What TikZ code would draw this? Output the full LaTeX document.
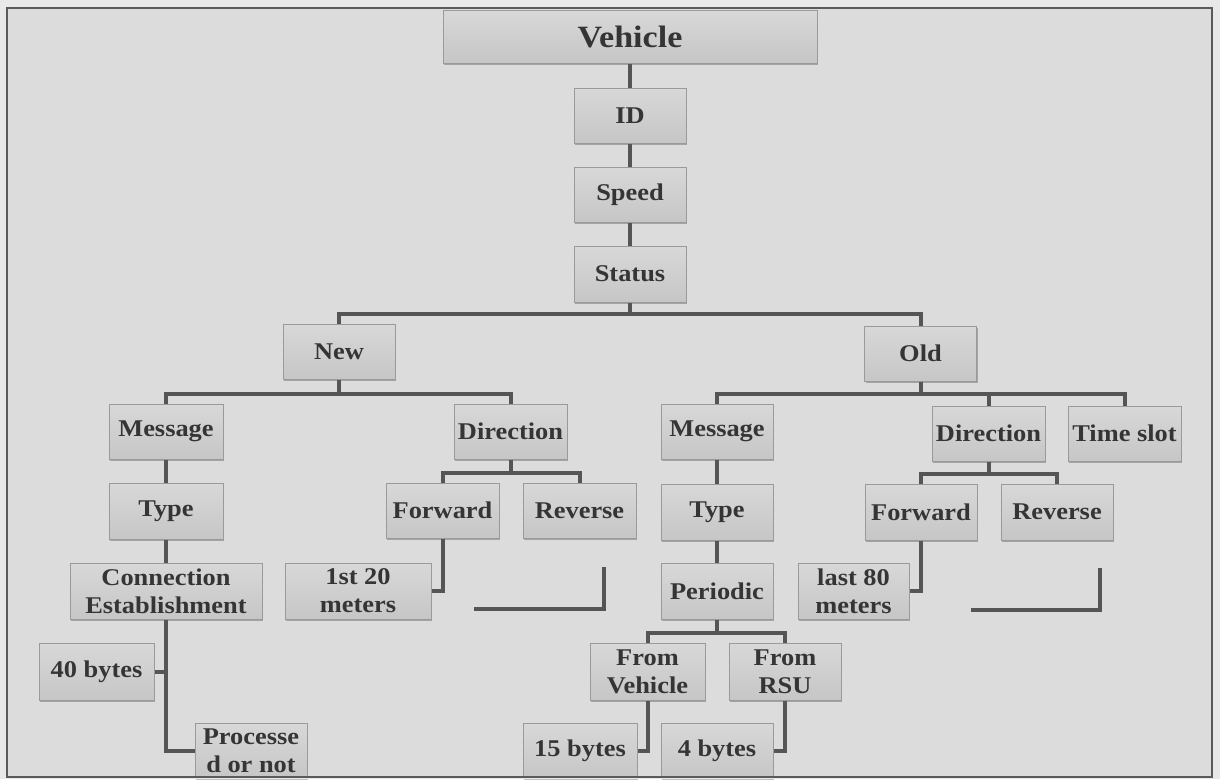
\documentclass[tikz,border=0pt]{standalone}
\usepackage{fontspec}
\setmainfont{Liberation Serif}[FakeStretch=1.1]
\usetikzlibrary{shadows}
\definecolor{bgin}{HTML}{DCDCDC}
\definecolor{bgout}{HTML}{E8E8E8}
\definecolor{frameline}{HTML}{5A5A5A}
\definecolor{conn}{HTML}{555555}
\definecolor{boxtop}{HTML}{D8D8D8}
\definecolor{boxbot}{HTML}{C6C6C6}
\definecolor{boxline}{HTML}{9A9A9A}
\definecolor{txt}{HTML}{353535}
\tikzset{
  box/.style={draw=boxline, line width=1pt, top color=boxtop, bottom color=boxbot,
    inner sep=0pt, align=center, text=txt,
    font={\fontsize{24}{28}\selectfont\bfseries},
    drop shadow={shadow xshift=1pt, shadow yshift=-1.5pt, fill=black, opacity=0.25}},
  link/.style={draw=conn, line width=4pt},
}
\begin{document}
\begin{tikzpicture}[x=1pt,y=-1pt]
\useasboundingbox (0,0) rectangle (1220,779);
\fill[bgout] (0,0) rectangle (1220,779);
\fill[bgin] (7,8) rectangle (1212,777);
% boxes
\node[box, minimum width=374pt, minimum height=53pt, font={\fontsize{31}{34}\selectfont\bfseries}] (veh) at (630,36.5) {Vehicle};
\node[box, minimum width=112pt, minimum height=55pt] (id) at (630,115.5) {ID};
\node[box, minimum width=112pt, minimum height=55pt] (speed) at (630,194.5) {Speed};
\node[box, minimum width=112pt, minimum height=56pt] (status) at (630,274) {Status};
\node[box, minimum width=112pt, minimum height=55pt] (new) at (339,351.5) {New};
\node[box, minimum width=112pt, minimum height=55pt] (old) at (920.5,353.5) {Old};
\node[box, minimum width=114pt, minimum height=55pt] (msg1) at (166,431.5) {Message};
\node[box, minimum width=113pt, minimum height=55pt] (dir1) at (510.5,431.5) {Direction};
\node[box, minimum width=112pt, minimum height=55pt] (msg2) at (717,431.5) {Message};
\node[box, minimum width=113pt, minimum height=55pt] (dir2) at (988.5,433.5) {Direction};
\node[box, minimum width=113pt, minimum height=55pt] (time) at (1124.5,433.5) {Time slot};
\node[box, minimum width=114pt, minimum height=56pt] (type1) at (166,511) {Type};
\node[box, minimum width=113pt, minimum height=55pt] (fwd1) at (442.5,510.5) {Forward};
\node[box, minimum width=113pt, minimum height=55pt] (rev1) at (579.5,510.5) {Reverse};
\node[box, minimum width=112pt, minimum height=56pt] (type2) at (717,512) {Type};
\node[box, minimum width=112pt, minimum height=56pt] (fwd2) at (921,512) {Forward};
\node[box, minimum width=112pt, minimum height=56pt] (rev2) at (1057,512) {Reverse};
\node[box, minimum width=192pt, minimum height=56pt] (conn) at (166,591) {Connection\\Establishment};
\node[box, minimum width=146pt, minimum height=56pt] (first20) at (358,591) {1st 20\\meters};
\node[box, minimum width=112pt, minimum height=56pt] (periodic) at (717,591) {Periodic};
\node[box, minimum width=111pt, minimum height=56pt] (last80) at (853.5,591) {last 80\\meters};
\node[box, minimum width=115pt, minimum height=57pt] (b40) at (96.5,671.5) {40 bytes};
\node[box, minimum width=115pt, minimum height=57pt] (fromveh) at (647.5,671.5) {From\\Vehicle};
\node[box, minimum width=112pt, minimum height=57pt] (fromrsu) at (785,671.5) {From\\RSU};
\node[box, minimum width=112pt, minimum height=55pt] (proc) at (251,750.5) {Processe\\d or not};
\node[box, minimum width=114pt, minimum height=55pt] (b15) at (580,750.5) {15 bytes};
\node[box, minimum width=112pt, minimum height=55pt] (b4) at (717,750.5) {4 bytes};
% connectors
\draw[link] (veh) -- (id);
\draw[link] (id) -- (speed);
\draw[link] (speed) -- (status);
\draw[link] (status.south) -- ++(0,11) -| (new.north);
\draw[link] (status.south) -- ++(0,11) -| (old.north);
\draw[link] (new.south) -- ++(0,14) -| (msg1.north);
\draw[link] (new.south) -- ++(0,14) -| (dir1.north);
\draw[link] (dir1.south) -- ++(0,13) -| (fwd1.north);
\draw[link] (dir1.south) -- ++(0,13) -| (rev1.north);
\draw[link] (old.south) -- ++(0,12) -| (msg2.north);
\draw[link] (old.south) -- ++(0,12) -| (dir2.north);
\draw[link] (old.south) -- ++(0,12) -| (time.north);
\draw[link] (dir2.south) -- ++(0,12) -| (fwd2.north);
\draw[link] (dir2.south) -- ++(0,12) -| (rev2.north);
\draw[link] (msg1) -- (type1);
\draw[link] (type1) -- (conn);
\draw[link] (msg2) -- (type2);
\draw[link] (type2) -- (periodic);
\draw[link] (periodic.south) -- ++(0,13) -| (fromveh.north);
\draw[link] (periodic.south) -- ++(0,13) -| (fromrsu.north);
\draw[link] (conn.south) |- (proc.west);
\draw[link] (b40.east) -| (conn.south);
\draw[link] (fwd1.south) |- (first20.east);
\draw[link] (fwd2.south) |- (last80.east);
\draw[link] (fromveh.south) |- (b15.east);
\draw[link] (fromrsu.south) |- (b4.east);
% dangling brackets
\coordinate (bra) at (474,609);
\coordinate (brb) at (604,609);
\coordinate (brc) at (604,567);
\draw[link] (bra) -- (brb) -- (brc);
\coordinate (bsa) at (971,610);
\coordinate (bsb) at (1100,610);
\coordinate (bsc) at (1100,568);
\draw[link] (bsa) -- (bsb) -- (bsc);
% frame
\fill[bgout] (0,777) rectangle (1220,779);
\draw[frameline, line width=2pt] (7,8) rectangle (1212,777);
\end{tikzpicture}
\end{document}
